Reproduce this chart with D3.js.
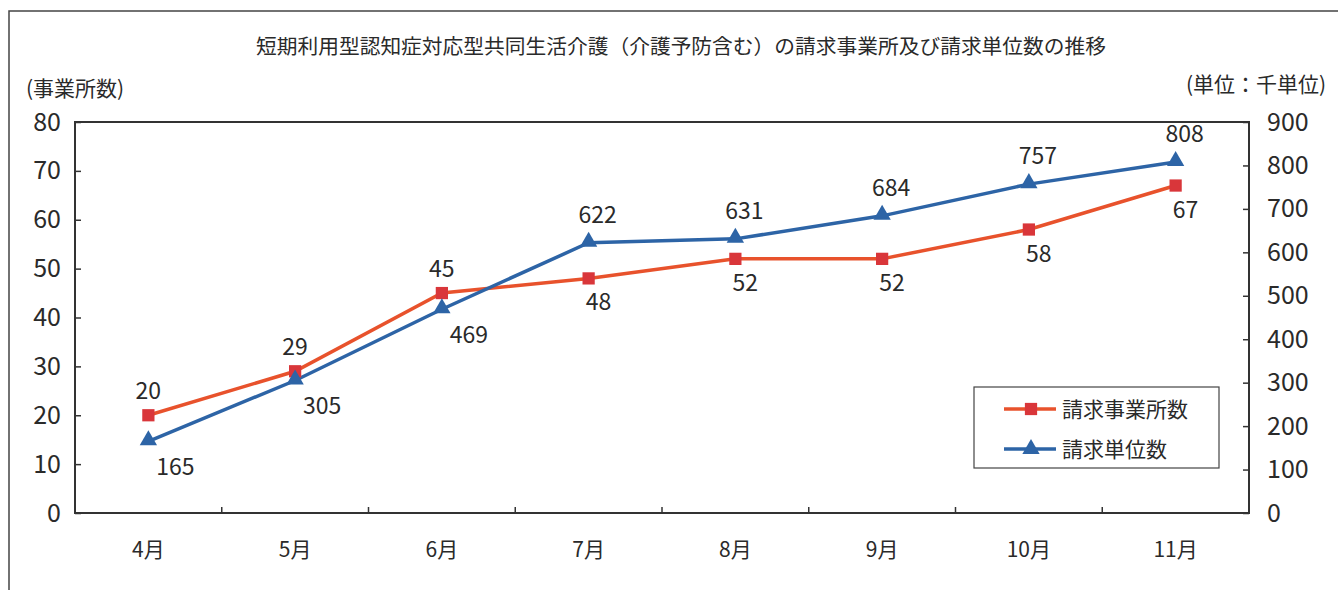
<!DOCTYPE html>
<html>
<head>
<meta charset="utf-8">
<script src="https://cdn.jsdelivr.net/npm/d3@7"></script>
<style>
  body { margin: 0; background: #fff; }
  svg { display: block; }
  text { font-family: "Noto Sans CJK JP", "Noto Sans", sans-serif; fill: #2a2a2a; }
</style>
</head>
<body>
<svg width="1338" height="590"></svg>
<script>
var months = ['4月', '5月', '6月', '7月', '8月', '9月', '10月', '11月']
var offices = [20, 29, 45, 48, 52, 52, 58, 67]      // 請求事業所数 (left axis)
var units = [165, 305, 469, 622, 631, 684, 757, 808] // 請求単位数 (right axis, 千単位)
var leftTicks = [0, 10, 20, 30, 40, 50, 60, 70, 80]
var rightTicks = [0, 100, 200, 300, 400, 500, 600, 700, 800, 900]
// label placement: true = above the point
var officeAbove = [true, true, true, false, false, false, false, false]
var unitAbove = [false, false, false, true, true, true, true, true]

var svg = d3.select('svg')
var margin = { left: 75, right: 1249, top: 122, bottom: 513 }

var orange = '#e8522c'
var red = '#d9363a'
var blue = '#2d64a6'
var axisColor = '#333'

// outer frame (only the top and left edges are visible)
svg.append('path')
    .attr('d', 'M9,600 V11 H1400')
    .attr('fill', 'none')
    .attr('stroke', '#444')
    .attr('stroke-width', 1.5)

svg.append('text')
    .attr('x', 256)
    .attr('y', 54)
    .attr('font-size', 20)
    .attr('textLength', 850)
    .attr('lengthAdjust', 'spacingAndGlyphs')
    .text('短期利用型認知症対応型共同生活介護（介護予防含む）の請求事業所及び請求単位数の推移')

var x = d3.scaleBand()
    .domain(months)
    .range([margin.left, margin.right])

var yL = d3.scaleLinear().domain([0, 80]).range([margin.bottom, margin.top])
var yR = d3.scaleLinear().domain([0, 900]).range([margin.bottom, margin.top])

// plot box
svg.append('rect')
    .attr('x', margin.left)
    .attr('y', margin.top)
    .attr('width', margin.right - margin.left)
    .attr('height', margin.bottom - margin.top)
    .attr('fill', 'none')
    .attr('stroke', axisColor)
    .attr('stroke-width', 2)

// left axis
var gl = svg.append('g')
    .attr('transform', 'translate(' + margin.left + ',0)')
    .call(d3.axisLeft(yL).tickValues(leftTicks).tickSize(-6).tickPadding(14))
gl.select('.domain').remove()
gl.selectAll('line').attr('stroke', axisColor).attr('stroke-width', 1.5)
gl.selectAll('text').attr('font-size', 25).attr('font-family', '"Liberation Sans", sans-serif').attr('fill', '#2a2a2a')

// right axis
var gr = svg.append('g')
    .attr('transform', 'translate(' + margin.right + ',0)')
    .call(d3.axisRight(yR).tickValues(rightTicks).tickSize(-6).tickPadding(18))
gr.select('.domain').remove()
gr.selectAll('line').attr('stroke', axisColor).attr('stroke-width', 1.5)
gr.selectAll('text').attr('font-size', 25).attr('font-family', '"Liberation Sans", sans-serif').attr('fill', '#2a2a2a')

// x axis: ticks between categories
var gx = svg.append('g')
    .attr('transform', 'translate(0,' + margin.bottom + ')')
gx.selectAll('line')
    .data(months.slice(1))
  .enter().append('line')
    .attr('x1', function (d) { return x(d) })
    .attr('x2', function (d) { return x(d) })
    .attr('y1', 0)
    .attr('y2', -6)
    .attr('stroke', axisColor)
    .attr('stroke-width', 1.5)
gx.selectAll('text')
    .data(months)
  .enter().append('text')
    .attr('x', function (d) { return x(d) + x.bandwidth() / 2 })
    .attr('y', 44)
    .attr('text-anchor', 'middle')
    .attr('font-size', 21)
    .text(function (d) { return d })

svg.append('text')
    .attr('x', 26)
    .attr('y', 96)
    .attr('font-size', 21)
    .text('(事業所数)')
svg.append('text')
    .attr('x', 1186)
    .attr('y', 92)
    .attr('font-size', 21)
    .text('(単位：千単位)')

var cx = function (i) { return x(months[i]) + x.bandwidth() / 2 }

var lineL = d3.line()
    .x(function (d, i) { return cx(i) })
    .y(function (d) { return yL(d) })
var lineR = d3.line()
    .x(function (d, i) { return cx(i) })
    .y(function (d) { return yR(d) })

svg.append('path')
    .datum(offices)
    .attr('d', lineL)
    .attr('fill', 'none')
    .attr('stroke', orange)
    .attr('stroke-width', 3.5)

svg.append('path')
    .datum(units)
    .attr('d', lineR)
    .attr('fill', 'none')
    .attr('stroke', blue)
    .attr('stroke-width', 3.5)

var square = d3.symbol().type(d3.symbolSquare).size(150)
var triangle = d3.symbol().type(d3.symbolTriangle).size(130)

svg.selectAll('.mk-o')
    .data(offices)
  .enter().append('path')
    .attr('class', 'mk-o')
    .attr('d', square)
    .attr('transform', function (d, i) { return 'translate(' + cx(i) + ',' + yL(d) + ')' })
    .attr('fill', red)

svg.selectAll('.mk-u')
    .data(units)
  .enter().append('path')
    .attr('class', 'mk-u')
    .attr('d', triangle)
    .attr('transform', function (d, i) { return 'translate(' + cx(i) + ',' + (yR(d) - 1) + ')' })
    .attr('fill', blue)

// data labels
svg.selectAll('.lb-o')
    .data(offices)
  .enter().append('text')
    .attr('class', 'lb-o')
    .attr('x', function (d, i) { return cx(i) + (officeAbove[i] ? 0 : 10) })
    .attr('y', function (d, i) { return yL(d) + (officeAbove[i] ? -16 : 32) })
    .attr('text-anchor', 'middle')
    .attr('font-size', 23)
    .attr('font-family', '"Liberation Sans", sans-serif')
    .text(function (d) { return d })

svg.selectAll('.lb-u')
    .data(units)
  .enter().append('text')
    .attr('class', 'lb-u')
    .attr('x', function (d, i) { return cx(i) + (unitAbove[i] ? 9 : 27) })
    .attr('y', function (d, i) { return yR(d) + (unitAbove[i] ? -20 : 34) })
    .attr('text-anchor', 'middle')
    .attr('font-size', 23)
    .attr('font-family', '"Liberation Sans", sans-serif')
    .text(function (d) { return d })

// legend
var legend = svg.append('g').attr('transform', 'translate(974,387)')
legend.append('rect')
    .attr('width', 245)
    .attr('height', 81)
    .attr('fill', '#fff')
    .attr('stroke', '#444')
    .attr('stroke-width', 1.2)
var items = [
  { name: '請求事業所数', line: orange, mark: red, sym: square },
  { name: '請求単位数', line: blue, mark: blue, sym: triangle }
]
var li = legend.selectAll('.item')
    .data(items)
  .enter().append('g')
    .attr('transform', function (d, i) { return 'translate(0,' + (22 + i * 40) + ')' })
li.append('line')
    .attr('x1', 30).attr('x2', 82)
    .attr('stroke', function (d) { return d.line })
    .attr('stroke-width', 3.5)
li.append('path')
    .attr('d', function (d) { return d.sym() })
    .attr('transform', 'translate(57,0)')
    .attr('fill', function (d) { return d.mark })
li.append('text')
    .attr('x', 88)
    .attr('y', 8)
    .attr('font-size', 21)
    .text(function (d) { return d.name })
</script>
</body>
</html>
